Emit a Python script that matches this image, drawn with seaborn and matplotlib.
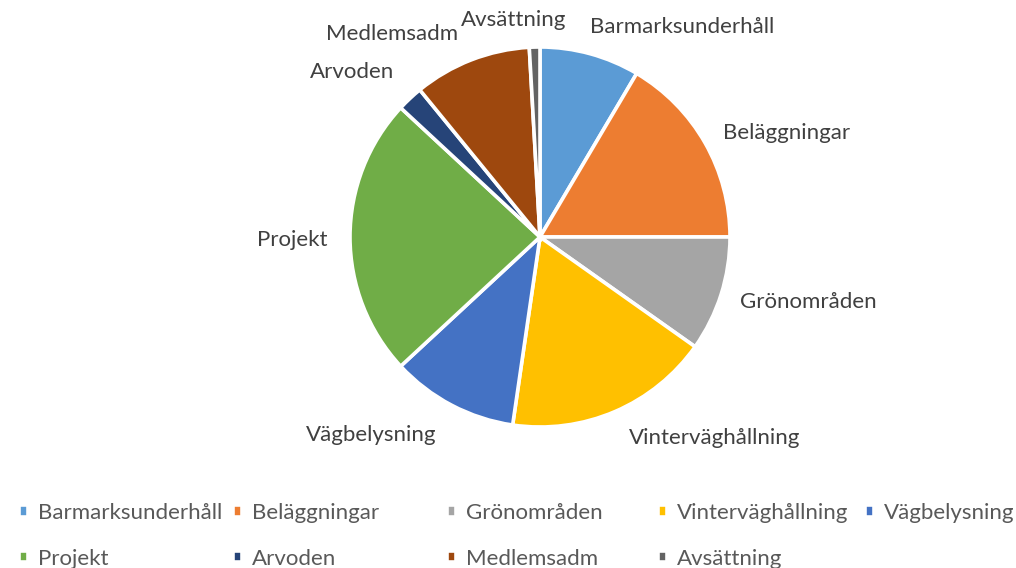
import matplotlib
matplotlib.use("Agg")
import matplotlib.pyplot as plt
import seaborn as sns

# data (share of total, %)
categories = ["Barmarksunderhåll", "Beläggningar", "Grönområden", "Vinterväghållning",
              "Vägbelysning", "Projekt", "Arvoden", "Medlemsadm", "Avsättning"]
values = [8.5, 16.5, 9.8, 17.5, 10.8, 23.8, 2.2, 10.0, 0.9]
colors = ["#5B9BD5", "#ED7D31", "#A5A5A5", "#FFC000", "#4472C4",
          "#70AD47", "#264478", "#9E480E", "#636363"]

sns.set_theme(style="white")
plt.rcParams["font.family"] = ["Lato", "DejaVu Sans"]
text_color = "#404040"

fig = plt.figure(figsize=(10.16, 5.68), dpi=100)
W, H = 1016, 568
cx, cy, r = 540, 237, 190
ax = fig.add_axes([(cx - r) / W, (H - cy - r) / H, 2 * r / W, 2 * r / H])

wedges, _ = ax.pie(values, colors=colors, startangle=90, counterclock=False,
                   radius=1, wedgeprops=dict(edgecolor="white", linewidth=2.6))
ax.set_xlim(-1, 1)
ax.set_ylim(-1, 1)
ax.set_aspect("equal")
ax.axis("off")

# label placement (Excel "best fit" style, outside the pie)
label_pos = [(0.747, 1.105), (1.30, 0.547), (1.41, -0.342), (0.921, -1.058),
             (-0.889, -1.042), (-1.305, -0.016), (-0.989, 0.868), (-0.779, 1.068),
             (-0.137, 1.142)]
for name, (lx, ly) in zip(categories, label_pos):
    ax.text(lx, ly, name, ha="center", va="center", fontsize=16,
            color=text_color, clip_on=False)

# legend: 5 columns, 2 rows, evenly spaced
col_x = [19, 233, 447, 658, 865]
for i, x in enumerate(col_x):
    idx = [j for j in (i, i + 5) if j < len(categories)]
    fig.legend([wedges[j] for j in idx], [categories[j] for j in idx],
               loc="upper left", bbox_to_anchor=(x / W, 1 - 503 / H),
               frameon=False, fontsize=16, labelcolor="#595959",
               handlelength=0.42, handleheight=0.42, handletextpad=0.42,
               borderpad=0, borderaxespad=0, labelspacing=1.15)

fig.savefig("out.png", dpi=100)
